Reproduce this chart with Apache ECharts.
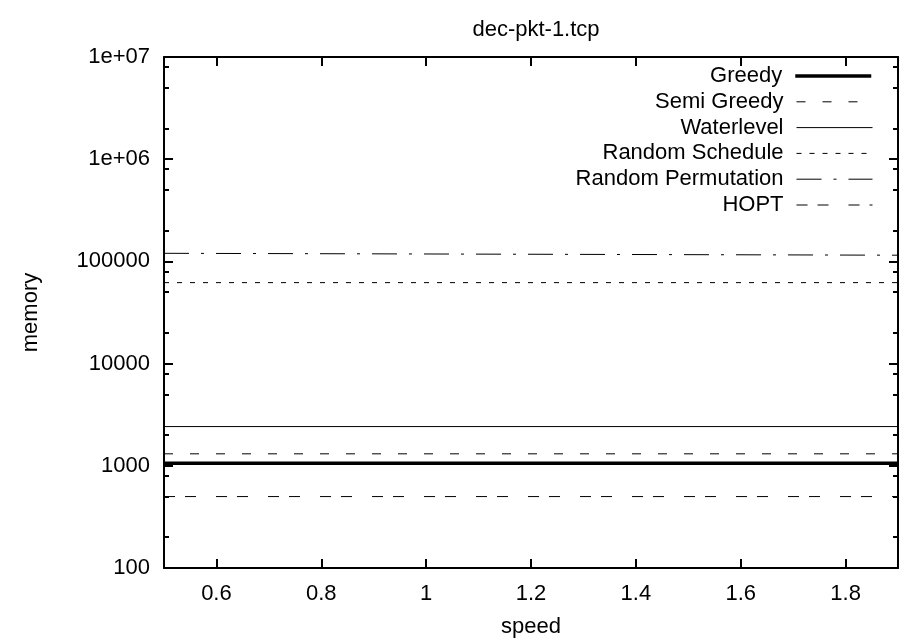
<!DOCTYPE html>
<html>
<head>
<meta charset="utf-8">
<script src="https://cdn.jsdelivr.net/npm/echarts@6/dist/echarts.min.js"></script>
<style>html,body{margin:0;padding:0;background:#fff}#c{width:906px;height:643px}</style>
</head>
<body>
<div id="c"></div>
<script>
const titleText = 'dec-pkt-1.tcp';
const xName = 'speed';
const yName = 'memory';
const speeds = [0.5, 1.9];
const seriesNames = ['Greedy', 'Semi Greedy', 'Waterlevel', 'Random Schedule', 'Random Permutation', 'HOPT'];
const greedy = [1060, 1060];
const semiGreedy = [1310, 1310];
const waterlevel = [2420, 2420];
const randomSchedule = [62000, 62000];
const randomPermutation = [120000, 115000];
const hopt = [500, 500];
const xTicks = [0.6, 0.8, 1.0, 1.2, 1.4, 1.6, 1.8];
const yTicks = [100, 1000, 10000, 100000, 1000000, 10000000];
const yTickLabels = ['100', '1000', '10000', '100000', '1e+06', '1e+07'];
const yMinorTicks = [200, 500, 800, 2000, 5000, 8000, 20000, 50000, 80000, 200000, 500000, 800000, 2000000, 5000000, 8000000];

const FONT = 'Liberation Sans, Arial, sans-serif';
const FS = 22;
const values = [greedy, semiGreedy, waterlevel, randomSchedule, randomPermutation, hopt];
const styles = [
  {width: 3.5, type: 'solid'},
  {width: 1, type: [9, 17]},
  {width: 1, type: 'solid'},
  {width: 1, type: [5, 8]},
  {width: 1, type: [25, 12, 3, 12]},
  {width: 1, type: [11, 10, 11, 20]}
];

const grid = {left: 164, right: 8, top: 57, bottom: 69};
const xBase = {type: 'value', min: 0.5, max: 1.9, splitLine: {show: false}};
const yBase = {type: 'log', logBase: 10, min: 100, max: 10000000, splitLine: {show: false}};
const lineSt = {show: true, lineStyle: {color: '#000', width: 2}};

const chart = echarts.init(document.getElementById('c'), null, {renderer: 'canvas'});
const option = {
  animation: false,
  backgroundColor: '#fff',
  textStyle: {fontFamily: FONT},
  title: {
    text: titleText, left: 531, top: 14, textAlign: 'center',
    textStyle: {fontFamily: FONT, fontSize: FS, fontWeight: 'normal', color: '#000'}
  },
  grid: grid,
  xAxis: [
    Object.assign({}, xBase, {
      position: 'bottom', axisLine: lineSt,
      axisTick: {show: true, inside: true, length: 9, customValues: xTicks, lineStyle: {color: '#000', width: 2}},
      axisLabel: {show: true, customValues: xTicks, margin: 15, fontFamily: FONT, fontSize: FS, color: '#000',
        formatter: v => String(Math.round(v * 10) / 10)},
      name: xName, nameLocation: 'middle', nameGap: 48,
      nameTextStyle: {fontFamily: FONT, fontSize: FS, color: '#000'}
    }),
    Object.assign({}, xBase, {
      position: 'top', axisLine: lineSt,
      axisTick: {show: true, inside: true, length: 9, customValues: xTicks, lineStyle: {color: '#000', width: 2}},
      axisLabel: {show: false}
    })
  ],
  yAxis: [
    Object.assign({}, yBase, {
      position: 'left', axisLine: lineSt,
      axisTick: {show: true, inside: true, length: 9, customValues: yTicks, lineStyle: {color: '#000', width: 2}},
      axisLabel: {show: true, customValues: yTicks, margin: 14, fontFamily: FONT, fontSize: FS, color: '#000',
        formatter: v => yTickLabels[yTicks.indexOf(Math.round(v))] || ''},
      name: yName, nameLocation: 'middle', nameGap: 122, nameRotate: 90,
      nameTextStyle: {fontFamily: FONT, fontSize: FS, color: '#000'}
    }),
    Object.assign({}, yBase, {
      position: 'right', axisLine: lineSt,
      axisTick: {show: true, inside: true, length: 9, customValues: yTicks, lineStyle: {color: '#000', width: 2}},
      axisLabel: {show: false}
    }),
    Object.assign({}, yBase, {
      position: 'left', axisLine: {show: false},
      axisTick: {show: true, inside: true, length: 5, customValues: yMinorTicks, lineStyle: {color: '#000', width: 2}},
      axisLabel: {show: false}
    }),
    Object.assign({}, yBase, {
      position: 'right', axisLine: {show: false},
      axisTick: {show: true, inside: true, length: 5, customValues: yMinorTicks, lineStyle: {color: '#000', width: 2}},
      axisLabel: {show: false}
    })
  ],
  legend: seriesNames.map((n, i) => ({
    data: [n], right: 33, top: 65 + i * 25.8, bottom: null, left: null,
    orient: 'vertical', align: 'right',
    itemWidth: 76, itemHeight: 14, itemGap: 0, padding: 0,
    selectedMode: false,
    itemStyle: {opacity: 0, color: 'transparent', borderWidth: 0},
    lineStyle: {width: styles[i].width, type: styles[i].type, color: '#000'},
    textStyle: {fontFamily: FONT, fontSize: FS, color: '#000', padding: [0, 8, 0, 0]}
  })),
  series: seriesNames.map((n, i) => ({
    name: n, type: 'line', xAxisIndex: 0, yAxisIndex: 0,
    data: speeds.map((x, j) => [x, values[i][j]]),
    symbol: 'none', showSymbol: false,
    lineStyle: {color: '#000', width: styles[i].width, type: styles[i].type},
    itemStyle: {color: '#000'},
    emphasis: {disabled: true}
  }))
};
chart.setOption(option);
</script>
</body>
</html>
